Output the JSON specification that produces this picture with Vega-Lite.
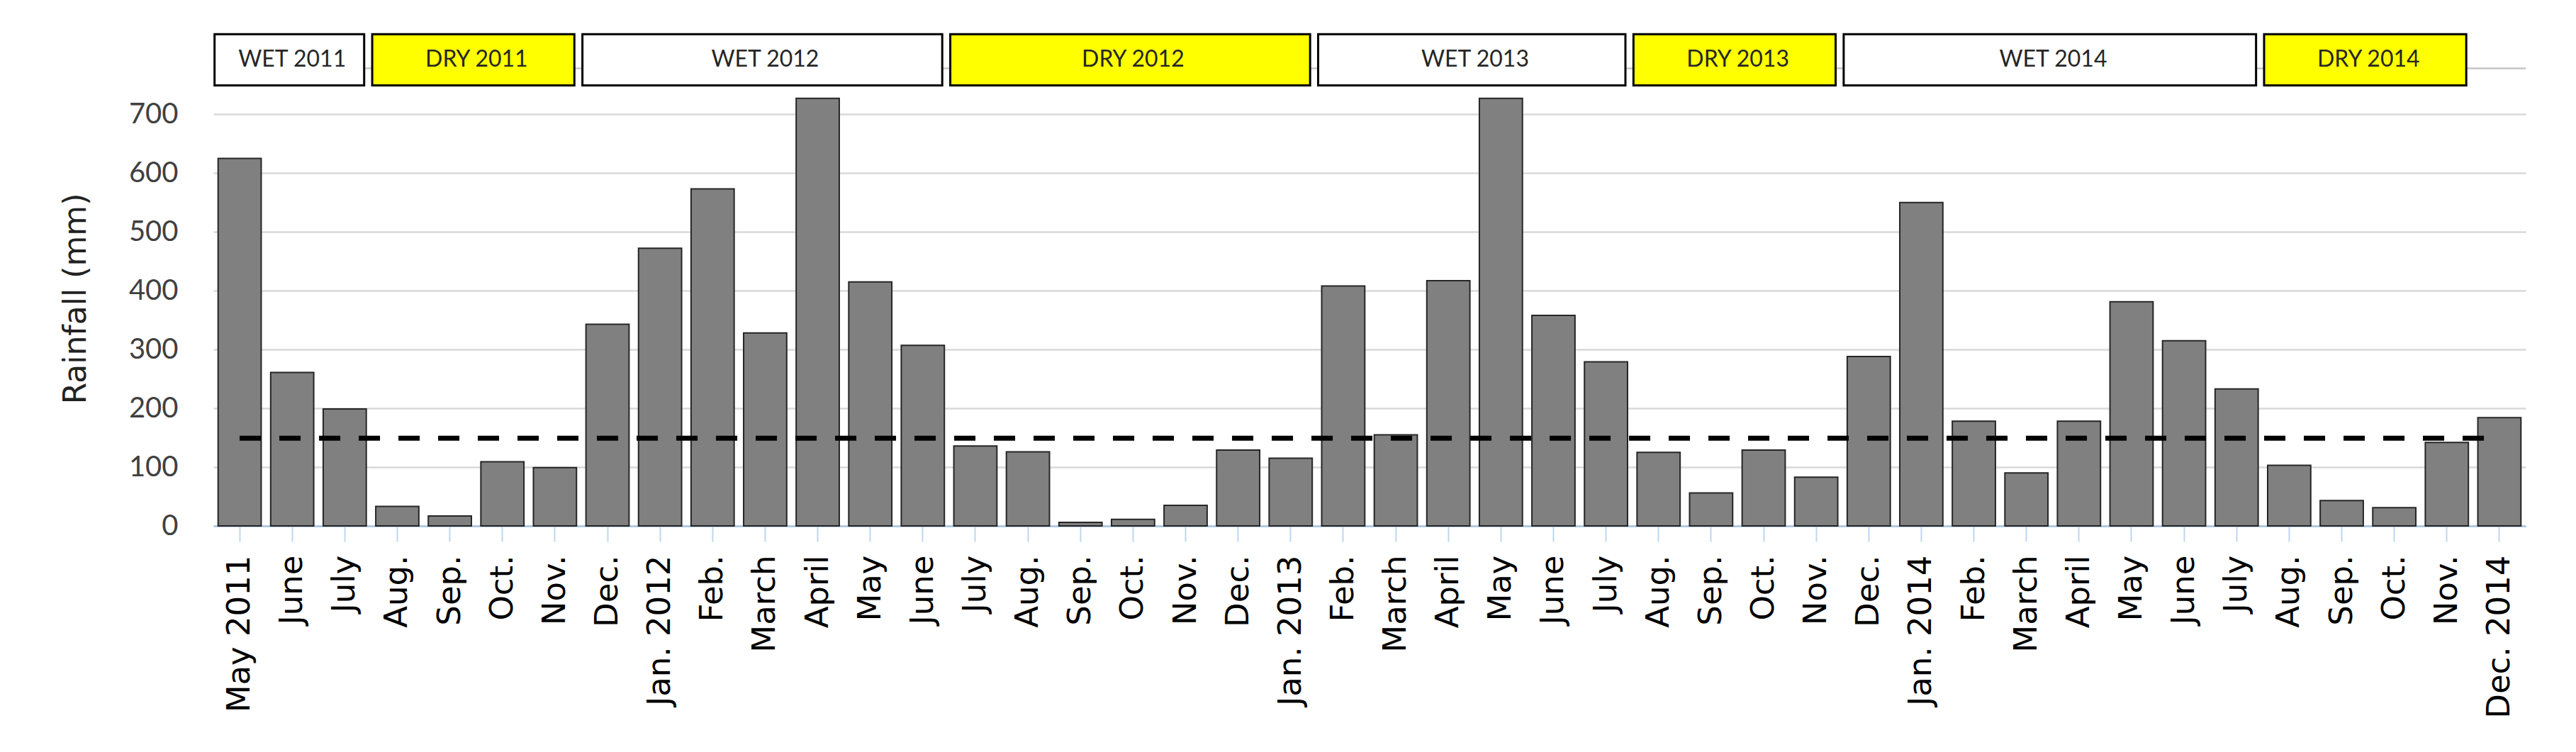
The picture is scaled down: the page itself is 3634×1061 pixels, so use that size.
{
  "$schema": "https://vega.github.io/schema/vega-lite/v6.json",
  "width": 3262,
  "height": 697,
  "autosize": "none",
  "padding": {"left": 301, "top": 45, "right": 71, "bottom": 319},
  "background": "white",
  "config": {
    "view": {"stroke": null},
    "axisX": {
      "title": null, "labelAngle": -90, "labelFont": "DejaVu Sans", "labelFontSize": 45,
      "labelColor": "#000000", "labelExpr": "slice(datum.value, 3)", "labelOverlap": false, "labelLimit": 500,
      "domainColor": "#A9C4E4", "domainWidth": 2.5, "tickColor": "#BDD7EE", "tickWidth": 2,
      "tickSize": 22, "labelPadding": 19, "grid": false
    },
    "axisY": {
      "titleFont": "DejaVu Sans", "titleFontSize": 44,
      "titleFontWeight": "normal", "titleColor": "#222222", "titlePadding": 52, "titleY": 376,
      "labelFont": "Lato", "labelFontSize": 40, "labelColor": "#404040",
      "ticks": false, "domain": false, "labelPadding": 50,
      "gridColor": "#D9D9D9", "gridWidth": 2.5
    }
  },
  "datasets": {
    "rain": [
      {"key": "00 May 2011", "value": 625},
      {"key": "01 June", "value": 261},
      {"key": "02 July", "value": 199},
      {"key": "03 Aug.", "value": 33},
      {"key": "04 Sep.", "value": 17},
      {"key": "05 Oct.", "value": 109},
      {"key": "06 Nov.", "value": 99},
      {"key": "07 Dec.", "value": 343},
      {"key": "08 Jan. 2012", "value": 472},
      {"key": "09 Feb.", "value": 573},
      {"key": "10 March", "value": 328},
      {"key": "11 April", "value": 727},
      {"key": "12 May", "value": 415},
      {"key": "13 June", "value": 307},
      {"key": "14 July", "value": 136},
      {"key": "15 Aug.", "value": 126},
      {"key": "16 Sep.", "value": 6},
      {"key": "17 Oct.", "value": 11},
      {"key": "18 Nov.", "value": 35},
      {"key": "19 Dec.", "value": 129},
      {"key": "20 Jan. 2013", "value": 115},
      {"key": "21 Feb.", "value": 408},
      {"key": "22 March", "value": 155},
      {"key": "23 April", "value": 417},
      {"key": "24 May", "value": 727},
      {"key": "25 June", "value": 358},
      {"key": "26 July", "value": 279},
      {"key": "27 Aug.", "value": 125},
      {"key": "28 Sep.", "value": 56},
      {"key": "29 Oct.", "value": 129},
      {"key": "30 Nov.", "value": 83},
      {"key": "31 Dec.", "value": 288},
      {"key": "32 Jan. 2014", "value": 550},
      {"key": "33 Feb.", "value": 178},
      {"key": "34 March", "value": 90},
      {"key": "35 April", "value": 178},
      {"key": "36 May", "value": 381},
      {"key": "37 June", "value": 315},
      {"key": "38 July", "value": 233},
      {"key": "39 Aug.", "value": 103},
      {"key": "40 Sep.", "value": 43},
      {"key": "41 Oct.", "value": 31},
      {"key": "42 Nov.", "value": 142},
      {"key": "43 Dec. 2014", "value": 184}
    ],
    "seasons": [
      {"season": "WET 2011", "type": "WET", "start": "00 May 2011", "end": "02 July", "mid": "01 June", "span": "odd"},
      {"season": "DRY 2011", "type": "DRY", "start": "03 Aug.", "end": "06 Nov.", "mid": "05 Oct.", "span": "even"},
      {"season": "WET 2012", "type": "WET", "start": "07 Dec.", "end": "13 June", "mid": "10 March", "span": "odd"},
      {"season": "DRY 2012", "type": "DRY", "start": "14 July", "end": "20 Jan. 2013", "mid": "17 Oct.", "span": "odd"},
      {"season": "WET 2013", "type": "WET", "start": "21 Feb.", "end": "26 July", "mid": "24 May", "span": "even"},
      {"season": "DRY 2013", "type": "DRY", "start": "27 Aug.", "end": "30 Nov.", "mid": "29 Oct.", "span": "even"},
      {"season": "WET 2014", "type": "WET", "start": "31 Dec.", "end": "38 July", "mid": "35 April", "span": "even"},
      {"season": "DRY 2014", "type": "DRY", "start": "39 Aug.", "end": "42 Nov.", "mid": "41 Oct.", "span": "even"}
    ]
  },
  "layer": [
    {
      "data": {"name": "rain"},
      "mark": {"type": "bar", "fill": "#808080", "stroke": "#262626", "strokeWidth": 2},
      "encoding": {
        "x": {
          "field": "key", "type": "nominal", "sort": "ascending", "title": null,
          "scale": {"paddingInner": 0.18, "paddingOuter": 0.09}
        },
        "y": {
          "field": "value", "type": "quantitative", "title": "Rainfall (mm)",
          "scale": {"domain": [0, 840], "nice": false},
          "axis": {"values": [0, 100, 200, 300, 400, 500, 600, 700]}
        }
      }
    },
    {
      "data": {"name": "rain"},
      "mark": {"type": "line", "color": "#000000", "strokeWidth": 7, "strokeDash": [30, 26]},
      "encoding": {
        "x": {"field": "key", "type": "nominal", "title": null},
        "y": {"datum": 149}
      }
    },
    {
      "data": {"values": [{"level": 778}]},
      "mark": {"type": "rule", "color": "#C6C6C6", "strokeWidth": 2.5},
      "encoding": {"y": {"datum": 778}}
    },
    {
      "data": {"name": "seasons"},
      "mark": {"type": "rect", "stroke": "#000000", "strokeWidth": 3, "xOffset": -5, "x2Offset": -3},
      "encoding": {
        "x": {"field": "start", "type": "nominal", "bandPosition": 0, "title": null},
        "x2": {"field": "end", "bandPosition": 1},
        "y": {"datum": 749},
        "y2": {"datum": 836},
        "fill": {"field": "type", "type": "nominal", "scale": {"domain": ["WET", "DRY"], "range": ["#FFFFFF", "#FFFF00"]}, "legend": null}
      }
    },
    {
      "data": {"name": "seasons"},
      "transform": [{"filter": "datum.span == 'odd'"}],
      "mark": {"type": "text", "font": "Lato", "fontSize": 32, "color": "#262626", "align": "center", "baseline": "middle"},
      "encoding": {
        "x": {"field": "mid", "type": "nominal", "bandPosition": 0.5, "title": null},
        "y": {"datum": 792.5},
        "text": {"field": "season"}
      }
    },
    {
      "data": {"name": "seasons"},
      "transform": [{"filter": "datum.span == 'even'"}],
      "mark": {"type": "text", "font": "Lato", "fontSize": 32, "color": "#262626", "align": "center", "baseline": "middle", "xOffset": -6},
      "encoding": {
        "x": {"field": "mid", "type": "nominal", "bandPosition": 0, "title": null},
        "y": {"datum": 792.5},
        "text": {"field": "season"}
      }
    }
  ]
}
